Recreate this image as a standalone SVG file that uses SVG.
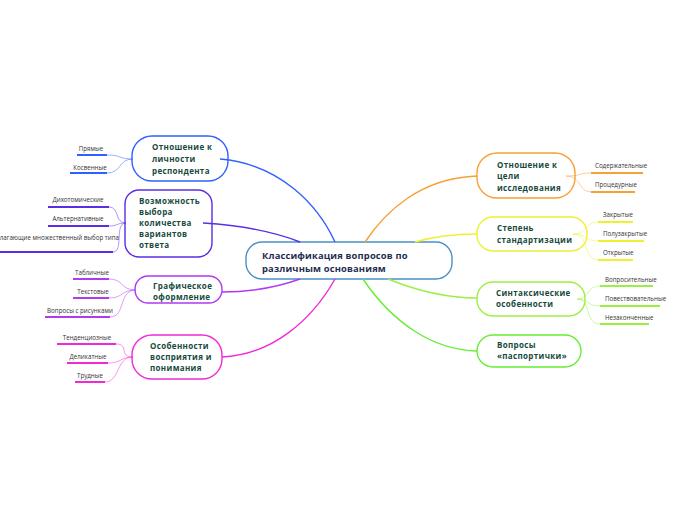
<svg xmlns="http://www.w3.org/2000/svg" width="696" height="520" viewBox="0 0 696 520">
<style>
.bg{fill:#ffffff}
.box{fill:#ffffff;stroke-width:1.4}
.t{font-family:"Open Sans","Liberation Sans",sans-serif;font-weight:bold;font-size:8px;fill:#174a3e;letter-spacing:0.35px}
.ct{font-family:"Open Sans","Liberation Sans",sans-serif;font-weight:bold;font-size:9.4px;fill:#1f2d50;letter-spacing:0.15px}
.s{font-family:"Open Sans","Liberation Sans",sans-serif;font-size:6.2px;fill:#333333}
.m{text-anchor:middle}
.e{text-anchor:end}
.main{fill:none;stroke-width:1.4}
.sub{fill:none;stroke-width:0.9;opacity:0.55}
.ul{fill:none;stroke-width:2}
</style>
<rect class="bg" x="0" y="0" width="696" height="520"/>

<g id="center">
<rect class="box" x="246" y="242" width="206" height="37" rx="16" stroke="#4a90c8"/>
<text class="ct" x="262" y="259">Классификация вопросов по</text>
<text class="ct" x="262" y="272">различным основаниям</text>
</g>

<g id="n-personality">
<rect class="box" x="132" y="136" width="96" height="45" rx="20" stroke="#3060ff"/>
<text class="t" x="152" y="150">Отношение к</text>
<text class="t" x="152" y="162">личности</text>
<text class="t" x="152" y="174">респондента</text>
<text class="s m" x="91" y="151">Прямые</text>
<path class="ul" d="M77,155H107" stroke="#3060ff"/>
<text class="s m" x="90" y="170">Косвенные</text>
<path class="ul" d="M70,173H107" stroke="#3060ff"/>
</g>

<g id="n-choice">
<rect class="box" x="125" y="190" width="87" height="67" rx="14" stroke="#5a2ee6"/>
<text class="t" x="139" y="204">Возможность</text>
<text class="t" x="139" y="215">выбора</text>
<text class="t" x="139" y="226">количества</text>
<text class="t" x="139" y="237">вариантов</text>
<text class="t" x="139" y="248">ответа</text>
<text class="s m" x="78" y="202">Дихотомические</text>
<path class="ul" d="M48,207H109" stroke="#5a2ee6"/>
<text class="s m" x="78" y="221">Альтернативные</text>
<path class="ul" d="M48,226H109" stroke="#5a2ee6"/>
<text class="s e" x="119" y="240" font-size="5.8">лагающие множественный выбор типа</text>
<path class="ul" d="M0,252H113" stroke="#5a2ee6"/>
</g>

<g id="n-graphic">
<rect class="box" x="135" y="276" width="87" height="27" rx="13" stroke="#b03af2"/>
<text class="t" x="153" y="289">Графическое</text>
<text class="t" x="153" y="300">оформление</text>
<text class="s m" x="92" y="275">Табличные</text>
<path class="ul" d="M73,279H109" stroke="#b03af2"/>
<text class="s m" x="93" y="294">Текстовые</text>
<path class="ul" d="M73,298H109" stroke="#b03af2"/>
<text class="s m" x="80" y="313">Вопросы с рисунками</text>
<path class="ul" d="M45,317H110" stroke="#b03af2"/>
</g>

<g id="n-perception">
<rect class="box" x="132" y="335" width="90" height="44" rx="20" stroke="#f02ad8"/>
<text class="t" x="150" y="349">Особенности</text>
<text class="t" x="150" y="360">восприятия и</text>
<text class="t" x="150" y="371">понимания</text>
<text class="s m" x="87" y="340">Тенденциозные</text>
<path class="ul" d="M57,344H116" stroke="#f02ad8"/>
<text class="s m" x="88" y="359">Деликатные</text>
<path class="ul" d="M67,363H108" stroke="#f02ad8"/>
<text class="s m" x="90" y="378">Трудные</text>
<path class="ul" d="M75,382H105" stroke="#f02ad8"/>
</g>

<g id="n-goal">
<rect class="box" x="477" y="153" width="98" height="45" rx="20" stroke="#f7a035"/>
<text class="t" x="497" y="168">Отношение к</text>
<text class="t" x="497" y="179">цели</text>
<text class="t" x="497" y="191">исследования</text>
<text class="s" x="595" y="168">Содержательные</text>
<path class="ul" d="M591,173H643" stroke="#f7a035"/>
<text class="s" x="595" y="187">Процедурные</text>
<path class="ul" d="M591,192H635" stroke="#f7a035"/>
</g>

<g id="n-standard">
<rect class="box" x="477" y="217" width="110" height="34" rx="16" stroke="#eef030"/>
<text class="t" x="497" y="231">Степень</text>
<text class="t" x="497" y="243">стандартизации</text>
<text class="s" x="603" y="217">Закрытые</text>
<path class="ul" d="M598,222H633" stroke="#eef030"/>
<text class="s" x="603" y="236">Полузакрытые</text>
<path class="ul" d="M598,241H644" stroke="#eef030"/>
<text class="s" x="603" y="255">Открытые</text>
<path class="ul" d="M598,260H633" stroke="#eef030"/>
</g>

<g id="n-syntax">
<rect class="box" x="477" y="282" width="108" height="34" rx="16" stroke="#9af040"/>
<text class="t" x="496" y="296">Синтаксические</text>
<text class="t" x="496" y="307">особенности</text>
<text class="s" x="605" y="282">Вопросительные</text>
<path class="ul" d="M600,286H653" stroke="#9af040"/>
<text class="s" x="605" y="301">Повествовательные</text>
<path class="ul" d="M600,306H660" stroke="#9af040"/>
<text class="s" x="605" y="320">Незаконченные</text>
<path class="ul" d="M600,324H649" stroke="#9af040"/>
</g>

<g id="n-passport">
<rect class="box" x="477" y="335" width="104" height="32" rx="16" stroke="#66ee33"/>
<text class="t" x="497" y="348">Вопросы</text>
<text class="t" x="497" y="359">«паспортички»</text>
</g>

<g id="connectors">
<path class="main" stroke="#3060ff" d="M220,159C280,164 318,205 335,242"/>
<path class="main" stroke="#5a2ee6" d="M203,223C250,226 280,234 300,242"/>
<path class="main" stroke="#b03af2" d="M300,279C275,288 250,292 222,292"/>
<path class="main" stroke="#f02ad8" d="M335,279C312,320 272,355 222,357"/>
<path class="main" stroke="#f7a035" d="M477,176C420,178 385,212 365,242"/>
<path class="main" stroke="#eef030" d="M477,234C450,234 432,237 415,242"/>
<path class="main" stroke="#9af040" d="M388,279C420,292 448,298 477,298"/>
<path class="main" stroke="#66ee33" d="M363,279C392,322 432,350 477,351"/>

<path class="sub" stroke="#3060ff" d="M133,159C118,159 122,155 107,155"/>
<path class="sub" stroke="#3060ff" d="M133,159C118,159 122,173 107,173"/>
<path class="sub" stroke="#5a2ee6" d="M126,223C114,223 120,207 109,207"/>
<path class="sub" stroke="#5a2ee6" d="M126,223C116,223 118,226 109,226"/>
<path class="sub" stroke="#5a2ee6" d="M126,223C114,223 124,252 113,252"/>
<path class="sub" stroke="#b03af2" d="M136,290C120,290 124,279 109,279"/>
<path class="sub" stroke="#b03af2" d="M136,290C120,290 124,298 109,298"/>
<path class="sub" stroke="#b03af2" d="M136,290C118,290 126,317 110,317"/>
<path class="sub" stroke="#f02ad8" d="M133,357C118,357 130,344 116,344"/>
<path class="sub" stroke="#f02ad8" d="M133,357C120,357 122,363 108,363"/>
<path class="sub" stroke="#f02ad8" d="M133,357C116,357 120,382 105,382"/>

<path class="sub" stroke="#f7a035" d="M566,176C582,176 578,173 591,173"/>
<path class="sub" stroke="#f7a035" d="M566,176C582,176 578,192 591,192"/>
<path class="sub" stroke="#eef030" d="M573,234C588,234 584,222 598,222"/>
<path class="sub" stroke="#eef030" d="M573,234C588,234 584,241 598,241"/>
<path class="sub" stroke="#eef030" d="M573,234C590,234 582,260 598,260"/>
<path class="sub" stroke="#9af040" d="M577,299C590,299 586,286 600,286"/>
<path class="sub" stroke="#9af040" d="M577,299C590,299 586,306 600,306"/>
<path class="sub" stroke="#9af040" d="M577,299C592,299 584,324 600,324"/>
</g>
</svg>
